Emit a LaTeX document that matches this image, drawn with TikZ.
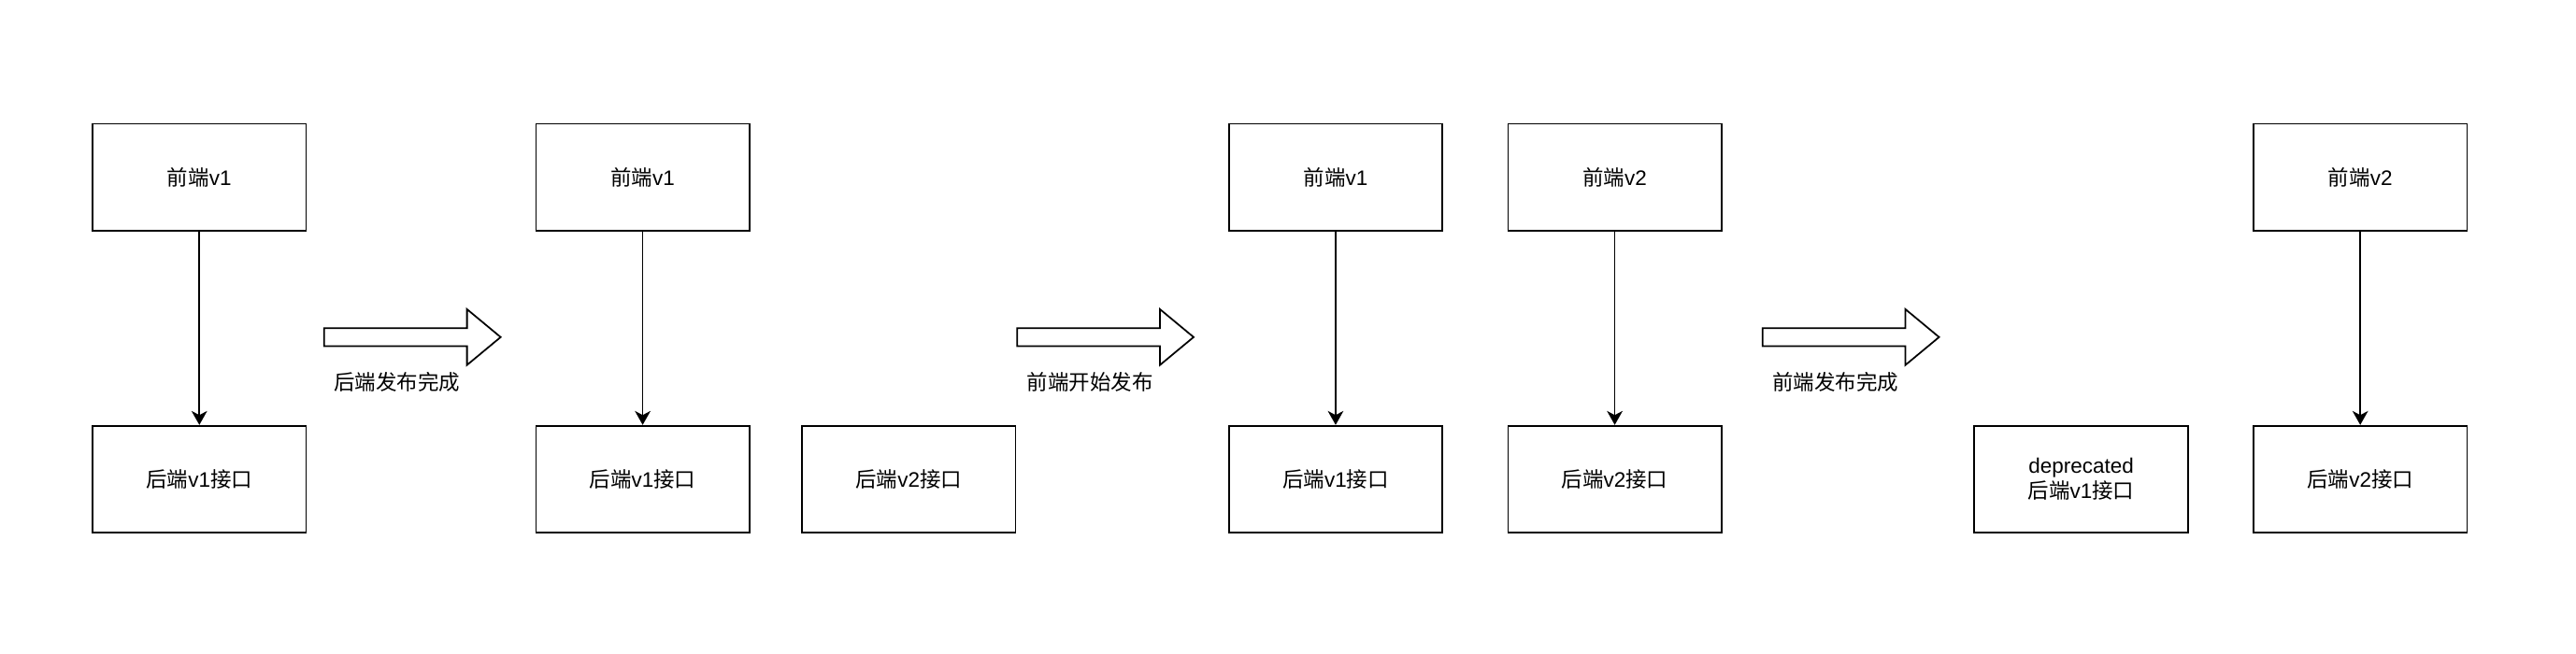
\documentclass[tikz,border=0pt]{standalone}
\usepackage{fontspec}
\setmainfont{Liberation Sans}
\newfontfamily\cjk{Noto Sans CJK SC}
\usetikzlibrary{arrows.meta}
\newcommand\zh[1]{{\cjk #1}}
\begin{document}
\begin{tikzpicture}[x=1pt, y=-1pt,
  box/.style={draw, line width=1pt, minimum width=130pt, minimum height=65pt,
    inner sep=0pt, align=center, font=\fontsize{12.8}{15}\selectfont},
  link/.style={line width=1pt, -{Stealth[length=8.5pt, width=9.5pt, inset=2.5pt]}},
  lbl/.style={inner sep=0pt, font=\fontsize{12.8}{15}\selectfont},
  blockarrow/.pic={\draw[line width=1pt, fill=white]
    (0,-5.5) -- (87,-5.5) -- (87,-17) -- (107.5,0) -- (87,17) -- (87,5.5) -- (0,5.5) -- cycle;}
]
\useasboundingbox (-0.4,-0.4) rectangle (1568.4,398);

% stage 1
\node[box] (a1) at (121,107.5) {\zh{前端}v1};
\node[box] (a2) at (121,291.5) {\zh{后端}v1\zh{接口}};
\draw[link] (a1) -- (a2);

\pic at (197,205) {blockarrow};
\node[lbl] (la1) at (241.5,232.5) {\zh{后端发布完成}};

% stage 2
\node[box] (b1) at (391,107.5) {\zh{前端}v1};
\node[box] (b2) at (391,291.5) {\zh{后端}v1\zh{接口}};
\node[box] (b3) at (553,291.5) {\zh{后端}v2\zh{接口}};
\draw[link] (b1) -- (b2);

\pic at (619,205) {blockarrow};
\node[lbl] (la2) at (663.5,232.5) {\zh{前端开始发布}};

% stage 3
\node[box] (c1) at (813,107.5) {\zh{前端}v1};
\node[box] (c2) at (983,107.5) {\zh{前端}v2};
\node[box] (c3) at (813,291.5) {\zh{后端}v1\zh{接口}};
\node[box] (c4) at (983,291.5) {\zh{后端}v2\zh{接口}};
\draw[link] (c1) -- (c3);
\draw[link] (c2) -- (c4);

\pic at (1073,205) {blockarrow};
\node[lbl] (la3) at (1117.5,232.5) {\zh{前端发布完成}};

% stage 4
\node[box] (d1) at (1267,291.5) {deprecated\\\zh{后端}v1\zh{接口}};
\node[box] (d2) at (1437,107.5) {\zh{前端}v2};
\node[box] (d3) at (1437,291.5) {\zh{后端}v2\zh{接口}};
\draw[link] (d2) -- (d3);
\end{tikzpicture}
\end{document}
